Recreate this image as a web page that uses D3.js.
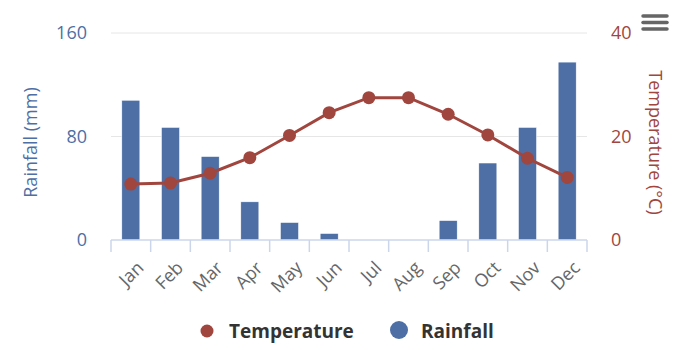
<!DOCTYPE html>
<html>
<head>
<meta charset="utf-8">
<script src="https://cdn.jsdelivr.net/npm/d3@7"></script>
<style>
  body { margin: 0; background: #fff; }
  text { font-family: "Open Sans", "DejaVu Sans", sans-serif; }
</style>
</head>
<body>
<div id="chart"></div>
<script>
const months = ["Jan", "Feb", "Mar", "Apr", "May", "Jun", "Jul", "Aug", "Sep", "Oct", "Nov", "Dec"];
const rainfall = [108, 87, 64.5, 29.5, 13.5, 5, 0, 0, 15, 59.5, 87, 137.5];
const temperature = [10.8, 11.0, 12.9, 15.9, 20.2, 24.6, 27.5, 27.5, 24.3, 20.3, 15.8, 12.1];
const rainTicks = [0, 80, 160];
const tempTicks = [0, 20, 40];

const W = 700, H = 350;
const plot = { left: 111, right: 587, top: 33, bottom: 240 };
const blue = "#4d6fa5", red = "#a0463e";

const svg = d3.select("#chart").append("svg").attr("width", W).attr("height", H);

const x = d3.scaleBand().domain(months).range([plot.left, plot.right]);
const yRain = d3.scaleLinear().domain([0, 160]).range([plot.bottom, plot.top]);
const yTemp = d3.scaleLinear().domain([0, 40]).range([plot.bottom, plot.top]);

// grid
svg.append("g")
  .selectAll("line")
  .data(rainTicks.filter(d => d > 0))
  .enter()
  .append("line")
  .attr("x1", plot.left)
  .attr("x2", plot.right)
  .attr("y1", d => yRain(d))
  .attr("y2", d => yRain(d))
  .attr("stroke", "#e6e6e6")
  .attr("stroke-width", 1);

// bars
svg.append("g")
  .selectAll("rect")
  .data(rainfall)
  .enter()
  .append("rect")
  .attr("x", (d, i) => x(months[i]) + x.bandwidth() / 2 - 9)
  .attr("width", 18)
  .attr("y", d => yRain(d))
  .attr("height", d => plot.bottom - yRain(d))
  .attr("fill", blue)
  .attr("stroke", "#fff")
  .attr("stroke-width", 0.5);

// x axis
const xAxis = svg.append("g").attr("transform", `translate(0,${plot.bottom})`);
xAxis.append("line")
  .attr("x1", plot.left).attr("x2", plot.right)
  .attr("stroke", "#ccd6eb").attr("stroke-width", 1.5);
xAxis.selectAll("line.tick")
  .data(d3.range(months.length + 1))
  .enter()
  .append("line")
  .attr("class", "tick")
  .attr("x1", i => plot.left + i * x.step())
  .attr("x2", i => plot.left + i * x.step())
  .attr("y1", 0).attr("y2", 12)
  .attr("stroke", "#ccd6eb").attr("stroke-width", 1.5);
xAxis.selectAll("text")
  .data(months)
  .enter()
  .append("text")
  .attr("transform", d => `translate(${x(d) + x.bandwidth() / 2 + 5},${20}) rotate(-45)`)
  .attr("text-anchor", "end")
  .attr("dy", "0.7em")
  .attr("fill", "#666")
  .style("font-size", "18px")
  .text(d => d);

// left axis
svg.append("g")
  .selectAll("text")
  .data(rainTicks)
  .enter()
  .append("text")
  .attr("x", 87)
  .attr("y", d => yRain(d) + 6)
  .attr("text-anchor", "end")
  .attr("fill", blue)
  .style("font-size", "18px")
  .text(d => d);
svg.append("text")
  .attr("transform", `translate(37,${(plot.top + plot.bottom) / 2 + 6}) rotate(-90)`)
  .attr("text-anchor", "middle")
  .attr("fill", blue)
  .style("font-size", "18px")
  .text("Rainfall (mm)");

// right axis
svg.append("g")
  .selectAll("text")
  .data(tempTicks)
  .enter()
  .append("text")
  .attr("x", 611)
  .attr("y", d => yTemp(d) + 6)
  .attr("fill", red)
  .style("font-size", "18px")
  .text(d => d);
svg.append("text")
  .attr("transform", `translate(649,${(plot.top + plot.bottom) / 2 + 6}) rotate(90)`)
  .attr("text-anchor", "middle")
  .attr("fill", red)
  .style("font-size", "18px")
  .text("Temperature (°C)");

// temperature line
const line = d3.line()
  .x((d, i) => x(months[i]) + x.bandwidth() / 2)
  .y(d => yTemp(d));
svg.append("path")
  .datum(temperature)
  .attr("d", line)
  .attr("fill", "none")
  .attr("stroke", red)
  .attr("stroke-width", 3);
svg.append("g")
  .selectAll("circle")
  .data(temperature)
  .enter()
  .append("circle")
  .attr("cx", (d, i) => x(months[i]) + x.bandwidth() / 2)
  .attr("cy", d => yTemp(d))
  .attr("r", 6.5)
  .attr("fill", red);

// legend
const legend = svg.append("g").attr("transform", "translate(0,331)");
legend.append("circle").attr("cx", 207).attr("cy", 0).attr("r", 6.5).attr("fill", red);
legend.append("text").attr("x", 229).attr("y", 7)
  .attr("fill", "#333").style("font-size", "19px").style("font-weight", "bold")
  .text("Temperature");
legend.append("circle").attr("cx", 399).attr("cy", -1).attr("r", 9).attr("fill", blue);
legend.append("text").attr("x", 421).attr("y", 7)
  .attr("fill", "#333").style("font-size", "19px").style("font-weight", "bold")
  .text("Rainfall");

// menu icon
svg.append("g")
  .selectAll("line")
  .data([16, 22.5, 29])
  .enter()
  .append("line")
  .attr("x1", 643).attr("x2", 667)
  .attr("y1", d => d).attr("y2", d => d)
  .attr("stroke", "#666").attr("stroke-width", 3.5)
  .attr("stroke-linecap", "round");
</script>
</body>
</html>
